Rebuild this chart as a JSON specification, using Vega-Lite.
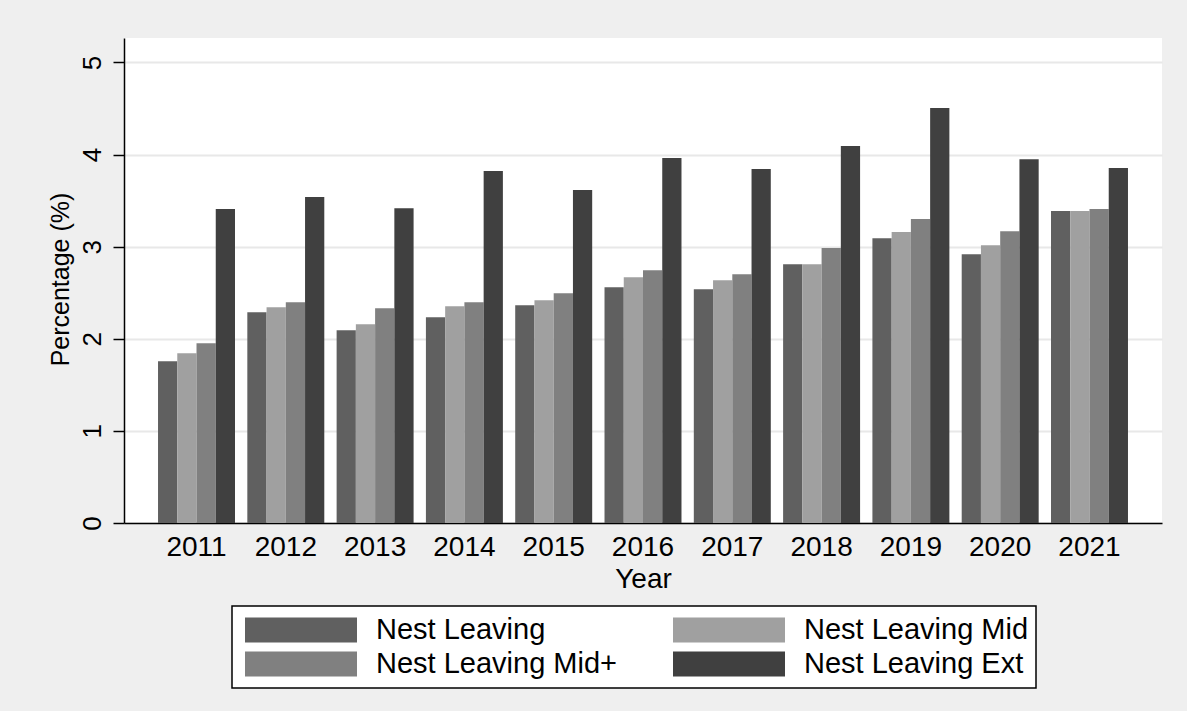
{
  "$schema": "https://vega.github.io/schema/vega-lite/v6.json",
  "width": 1038,
  "height": 485,
  "autosize": {"type": "none"},
  "padding": {"left": 124, "top": 38, "right": 25, "bottom": 188},
  "background": "#efefef",
  "config": {
    "view": {"stroke": null, "fill": "white"},
    "font": "Liberation Sans"
  },
  "data": {
    "values": [
      {"year": "2011", "series": "Nest Leaving", "value": 1.755},
      {"year": "2011", "series": "Nest Leaving Mid", "value": 1.842},
      {"year": "2011", "series": "Nest Leaving Mid+", "value": 1.951},
      {"year": "2011", "series": "Nest Leaving Ext", "value": 3.41},
      {"year": "2012", "series": "Nest Leaving", "value": 2.288},
      {"year": "2012", "series": "Nest Leaving Mid", "value": 2.342},
      {"year": "2012", "series": "Nest Leaving Mid+", "value": 2.397},
      {"year": "2012", "series": "Nest Leaving Ext", "value": 3.538},
      {"year": "2013", "series": "Nest Leaving", "value": 2.092},
      {"year": "2013", "series": "Nest Leaving Mid", "value": 2.158},
      {"year": "2013", "series": "Nest Leaving Mid+", "value": 2.332},
      {"year": "2013", "series": "Nest Leaving Ext", "value": 3.418},
      {"year": "2014", "series": "Nest Leaving", "value": 2.234},
      {"year": "2014", "series": "Nest Leaving Mid", "value": 2.353},
      {"year": "2014", "series": "Nest Leaving Mid+", "value": 2.397},
      {"year": "2014", "series": "Nest Leaving Ext", "value": 3.82},
      {"year": "2015", "series": "Nest Leaving", "value": 2.364},
      {"year": "2015", "series": "Nest Leaving Mid", "value": 2.418},
      {"year": "2015", "series": "Nest Leaving Mid+", "value": 2.495},
      {"year": "2015", "series": "Nest Leaving Ext", "value": 3.614},
      {"year": "2016", "series": "Nest Leaving", "value": 2.56},
      {"year": "2016", "series": "Nest Leaving Mid", "value": 2.668},
      {"year": "2016", "series": "Nest Leaving Mid+", "value": 2.745},
      {"year": "2016", "series": "Nest Leaving Ext", "value": 3.962},
      {"year": "2017", "series": "Nest Leaving", "value": 2.538},
      {"year": "2017", "series": "Nest Leaving Mid", "value": 2.636},
      {"year": "2017", "series": "Nest Leaving Mid+", "value": 2.701},
      {"year": "2017", "series": "Nest Leaving Ext", "value": 3.842},
      {"year": "2018", "series": "Nest Leaving", "value": 2.81},
      {"year": "2018", "series": "Nest Leaving Mid", "value": 2.81},
      {"year": "2018", "series": "Nest Leaving Mid+", "value": 2.984},
      {"year": "2018", "series": "Nest Leaving Ext", "value": 4.092},
      {"year": "2019", "series": "Nest Leaving", "value": 3.092},
      {"year": "2019", "series": "Nest Leaving Mid", "value": 3.158},
      {"year": "2019", "series": "Nest Leaving Mid+", "value": 3.299},
      {"year": "2019", "series": "Nest Leaving Ext", "value": 4.505},
      {"year": "2020", "series": "Nest Leaving", "value": 2.918},
      {"year": "2020", "series": "Nest Leaving Mid", "value": 3.016},
      {"year": "2020", "series": "Nest Leaving Mid+", "value": 3.168},
      {"year": "2020", "series": "Nest Leaving Ext", "value": 3.95},
      {"year": "2021", "series": "Nest Leaving", "value": 3.386},
      {"year": "2021", "series": "Nest Leaving Mid", "value": 3.386},
      {"year": "2021", "series": "Nest Leaving Mid+", "value": 3.408},
      {"year": "2021", "series": "Nest Leaving Ext", "value": 3.853}
    ]
  },
  "mark": {"type": "bar"},
  "encoding": {
    "x": {
      "field": "year",
      "type": "ordinal",
      "scale": {"paddingInner": 0.138, "paddingOuter": 0.381},
      "axis": {
        "title": "Year",
        "labelAngle": 0,
        "ticks": false,
        "domainColor": "black",
        "domainWidth": 1.5,
        "labelFontSize": 28,
        "labelColor": "black",
        "labelPadding": 10,
        "titleFontSize": 28,
        "titleFontWeight": "normal",
        "titleColor": "black",
        "titlePadding": 4
      }
    },
    "xOffset": {
      "field": "series",
      "sort": ["Nest Leaving", "Nest Leaving Mid", "Nest Leaving Mid+", "Nest Leaving Ext"],
      "scale": {"paddingInner": 0, "paddingOuter": 0}
    },
    "y": {
      "field": "value",
      "type": "quantitative",
      "scale": {"domain": [0, 5.265], "nice": false, "zero": true},
      "axis": {
        "title": "Percentage (%)",
        "values": [0, 1, 2, 3, 4, 5],
        "grid": true,
        "gridColor": "#e8e8e8",
        "gridWidth": 2,
        "domainColor": "black",
        "domainWidth": 1.5,
        "tickColor": "black",
        "tickSize": 11,
        "tickWidth": 1.5,
        "labelAngle": -90,
        "labelAlign": "center",
        "labelBaseline": "alphabetic",
        "labelPadding": 13,
        "labelFontSize": 26,
        "labelColor": "black",
        "labelFlush": false,
        "labelOverlap": false,
        "titleFontSize": 25,
        "titleFontWeight": "normal",
        "titleColor": "black",
        "titleAngle": -90,
        "titleAlign": "center",
        "titleBaseline": "alphabetic",
        "titleX": -56,
        "titleY": 241
      }
    },
    "color": {
      "field": "series",
      "type": "nominal",
      "scale": {
        "domain": ["Nest Leaving", "Nest Leaving Mid", "Nest Leaving Mid+", "Nest Leaving Ext"],
        "range": ["#606060", "#a0a0a0", "#808080", "#404040"]
      },
      "legend": {
        "orient": "none",
        "legendX": 108,
        "legendY": 568,
        "direction": "horizontal",
        "columns": 2,
        "title": null,
        "symbolType": "M-1,-0.2232H1V0.2232H-1Z",
        "symbolSize": 12544,
        "symbolStrokeWidth": 0,
        "symbolOpacity": 1,
        "symbolOffset": 6,
        "clipHeight": 34,
        "rowPadding": 0,
        "columnPadding": 50,
        "labelFontSize": 29,
        "labelColor": "black",
        "labelOffset": 19,
        "labelLimit": 400,
        "padding": 7,
        "strokeColor": "black",
        "fillColor": "white",
        "encode": {"legend": {"update": {"strokeWidth": {"value": 1.5}}}}
      }
    }
  }
}
